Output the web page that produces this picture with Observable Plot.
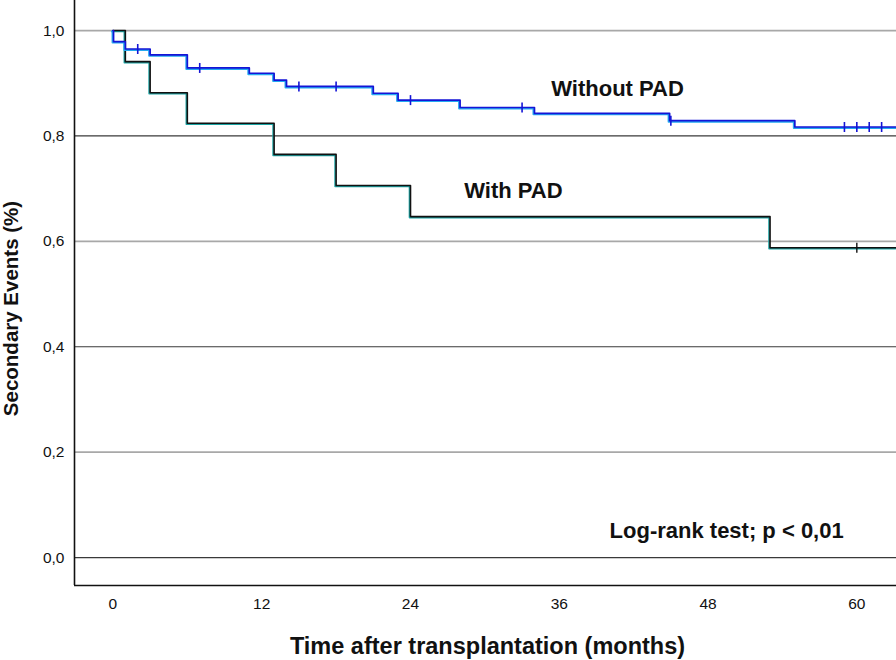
<!DOCTYPE html>
<html><head><meta charset="utf-8">
<script src="https://cdn.jsdelivr.net/npm/d3@7"></script>
<script src="https://cdn.jsdelivr.net/npm/@observablehq/plot@0.6"></script>
<style>
body{margin:0;background:#fff;}
#chart svg{display:block;}
</style></head><body><div id="chart"></div>
<script>
// Kaplan-Meier steps: Without PAD
const withoutTimes = [0, 0.05, 1, 3, 6, 11, 13, 14, 21, 23, 28, 34, 44.9, 55, 63.2];
const withoutSurv  = [1, 0.979, 0.965, 0.954, 0.929, 0.919, 0.906, 0.894, 0.881, 0.868, 0.854, 0.843, 0.829, 0.817, 0.817];
const withoutCensor = [2, 7, 15, 18, 24, 33, 45, 59, 60, 61, 62];
// With PAD
const withTimes = [0, 1, 3, 6, 13, 18, 24, 53, 63.2];
const withSurv  = [1, 0.941, 0.882, 0.824, 0.765, 0.706, 0.647, 0.588, 0.588];
const withCensor = [60];
// ticks
const xTicks = [0, 12, 24, 36, 48, 60];
const yTicks = [0, 0.2, 0.4, 0.6, 0.8, 1.0];
const groupLabels = ["Without PAD", "With PAD"];
const testLabel = "Log-rank test; p < 0,01";
const xTitle = "Time after transplantation (months)";
const yTitle = "Secondary Events (%)";

const stepsOf = (ts, vs) => ts.map((t, i) => ({t, v: vs[i]}));
const survAt = (ts, vs) => t => vs[d3.bisectRight(ts, t) - 1];
const censorOf = (cs, ts, vs) => cs.map(t => ({t, v: survAt(ts, vs)(t)}));

const withoutData = stepsOf(withoutTimes, withoutSurv);
const withData = stepsOf(withTimes, withSurv);
const withoutCens = censorOf(withoutCensor, withoutTimes, withoutSurv);
const withCens = censorOf(withCensor, withTimes, withSurv);

const vbar = {draw(ctx, size){ const h = Math.sqrt(size / Math.PI); ctx.moveTo(0, -h); ctx.lineTo(0, h); }};

const xMin = -3.1, xMax = 63.2, yMin = -0.053, yMax = 1.057;
const font = '"Liberation Sans", Arial, sans-serif';

const chart = Plot.plot({
  width: 896, height: 660,
  marginLeft: 74, marginRight: 0, marginTop: 0, marginBottom: 75,
  style: {fontFamily: font, fontSize: "15px", color: "#111", background: "#fff", overflow: "visible"},
  x: {domain: [xMin, xMax]},
  y: {domain: [yMin, yMax]},
  marks: [
    Plot.ruleY(yTicks, {stroke: (d, i) => i % 2 === 0 ? "#3a3a3a" : "#a8a8a8", strokeWidth: (d, i) => i % 2 === 0 ? 1.2 : 1.8}),
    Plot.axisX({ticks: xTicks, tickSize: 0, tickPadding: 12, fontSize: 15.5, label: null}),
    Plot.axisY({ticks: yTicks, tickSize: 0, tickPadding: 10, fontSize: 15.5, label: null,
                tickFormat: d => d.toFixed(1).replace(".", ",")}),
    Plot.ruleX([xMin], {stroke: "#111", strokeWidth: 1.6}),
    Plot.ruleY([yMin], {stroke: "#111", strokeWidth: 1.6}),
    Plot.line(withData, {x: "t", y: "v", curve: "step-after", stroke: "#1aa3a3", strokeWidth: 1.6, dx: -1, dy: 1}),
    Plot.line(withData, {x: "t", y: "v", curve: "step-after", stroke: "#111", strokeWidth: 1.6}),
    Plot.line(withoutData, {x: "t", y: "v", curve: "step-after", stroke: "#25a9f0", strokeWidth: 2, dx: -1, dy: 1}),
    Plot.line(withoutData, {x: "t", y: "v", curve: "step-after", stroke: "#1414d6", strokeWidth: 1.7}),
    Plot.dot(withoutCens, {x: "t", y: "v", symbol: vbar, r: 5, stroke: "#1414d6", fill: "none", strokeWidth: 1.6}),
    Plot.dot(withCens, {x: "t", y: "v", symbol: vbar, r: 5, stroke: "#111", fill: "none", strokeWidth: 1.4}),
    Plot.text([groupLabels[0]], {x: 40.7, y: 0.890, fontSize: 22, fontWeight: "bold", fill: "#111"}),
    Plot.text([groupLabels[1]], {x: 32.3, y: 0.696, fontSize: 22, fontWeight: "bold", fill: "#111"}),
    Plot.text([testLabel], {x: 49.5, y: 0.051, fontSize: 22, fontWeight: "bold", fill: "#111"}),
    Plot.text([xTitle], {frameAnchor: "bottom", dy: 68, dx: 2, fontSize: 23.5, fontWeight: "bold", fill: "#111"}),
    Plot.text([yTitle], {frameAnchor: "left", textAnchor: "middle", rotate: -90, dx: -63, dy: 15.5, fontSize: 20.5, fontWeight: "bold", fill: "#111"})
  ]
});
document.getElementById("chart").appendChild(chart);
</script></body></html>
